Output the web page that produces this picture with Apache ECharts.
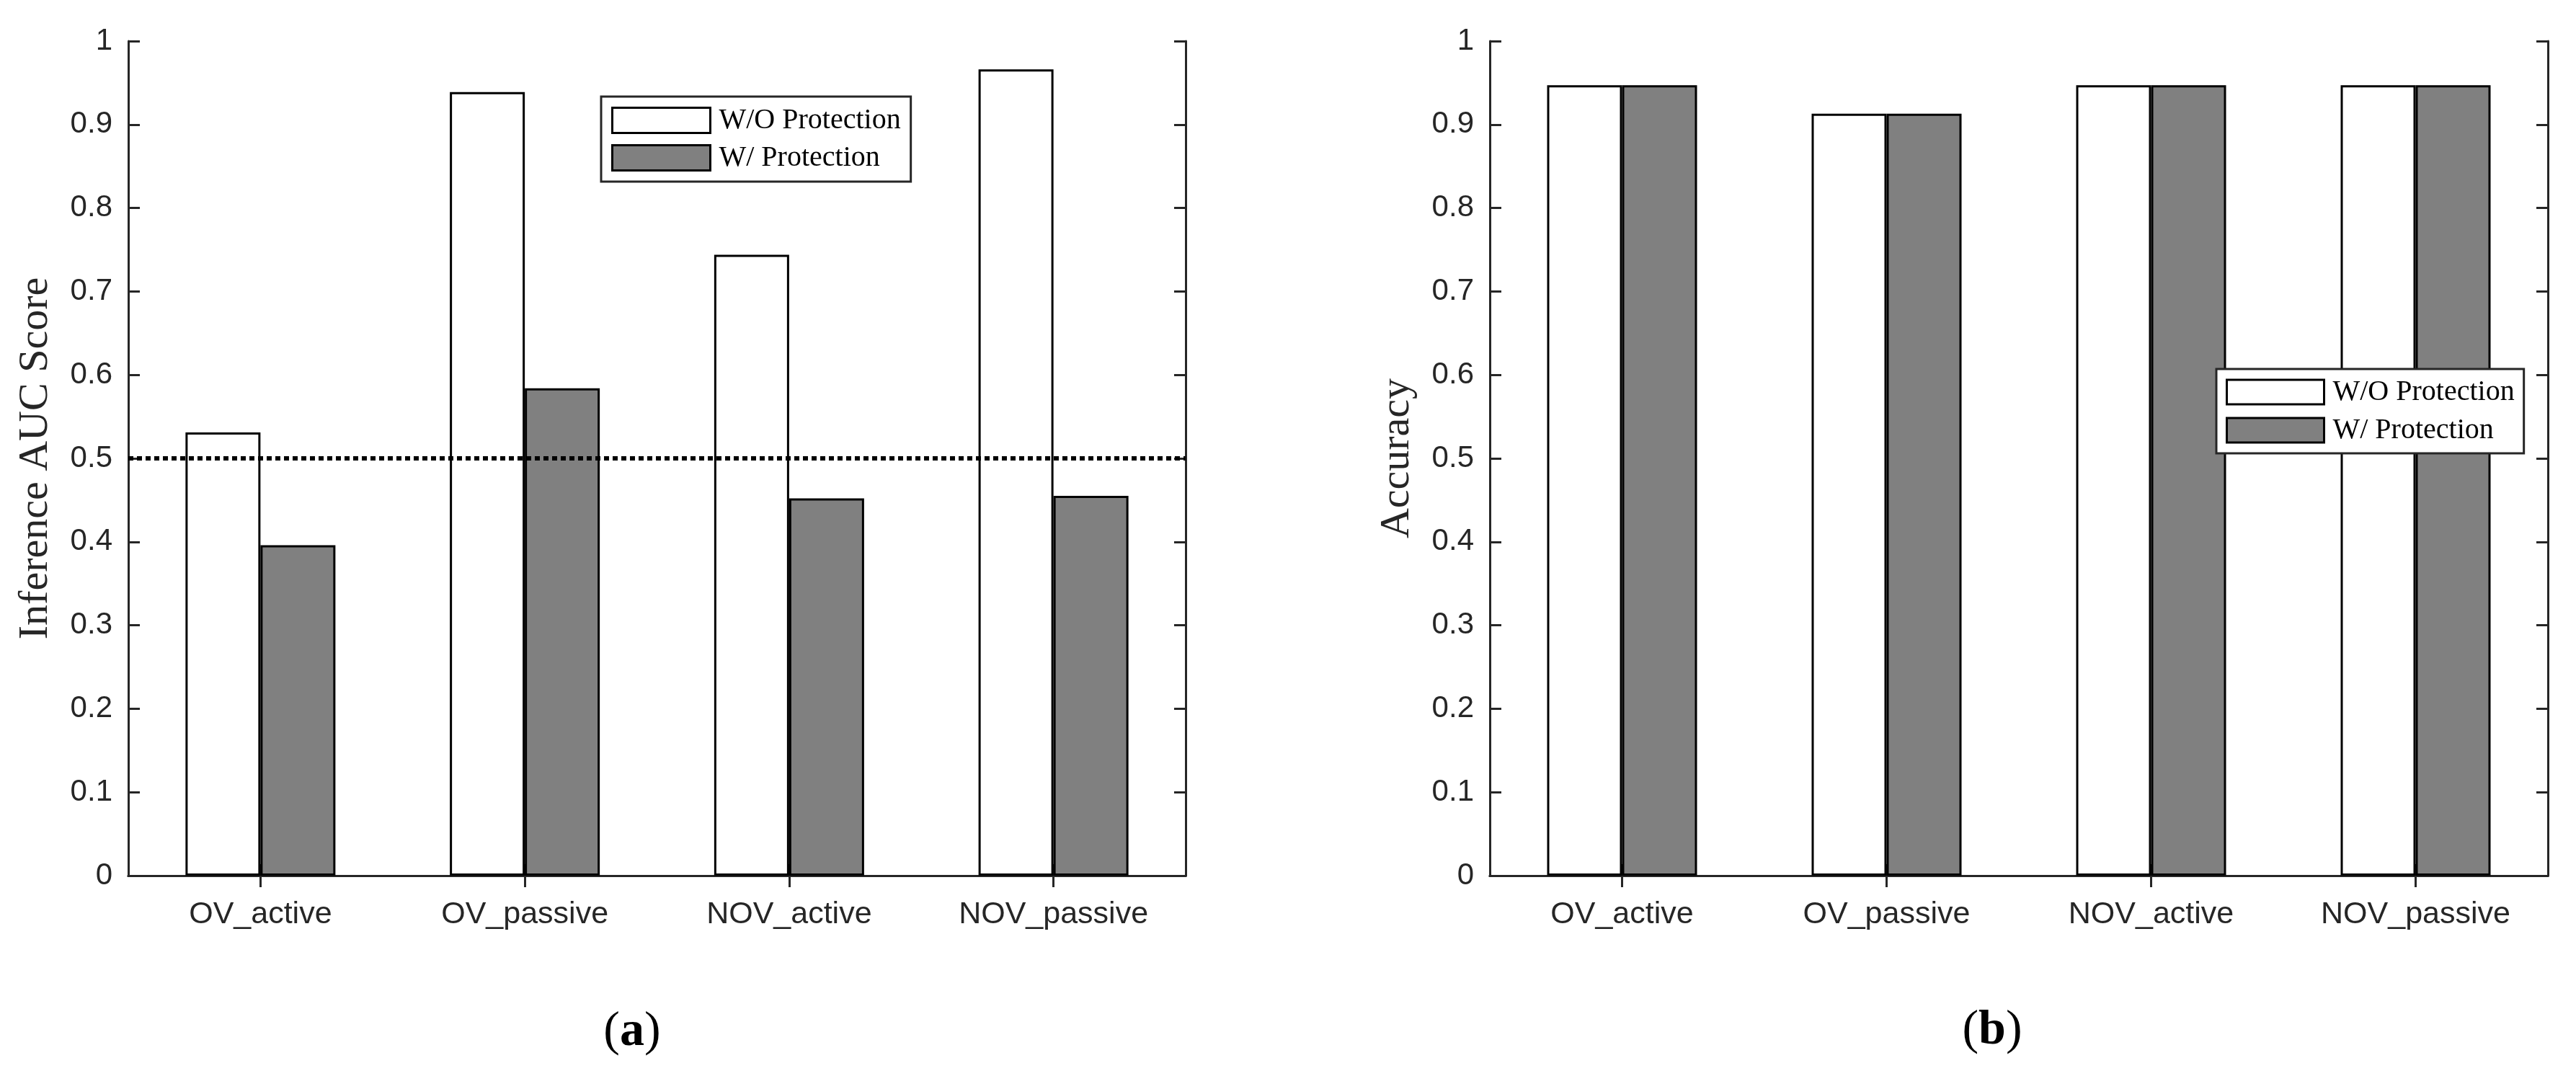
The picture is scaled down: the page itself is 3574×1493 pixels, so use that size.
<!DOCTYPE html>
<html>
<head>
<meta charset="utf-8">
<script src="https://cdn.jsdelivr.net/npm/echarts@6/dist/echarts.min.js"></script>
<style>
html,body{margin:0;padding:0;background:#fff;}
#chart{width:3574px;height:1493px;}
</style>
</head>
<body>
<div id="chart"></div>
<script>
// ---- data ----
var categories = ['OV_active', 'OV_passive', 'NOV_active', 'NOV_passive'];
var seriesNames = ['W/O Protection', 'W/ Protection'];
var aucWithout = [0.531, 0.939, 0.744, 0.966];
var aucWith = [0.396, 0.584, 0.452, 0.455];
var accWithout = [0.947, 0.913, 0.947, 0.947];
var accWith = [0.947, 0.913, 0.947, 0.947];
var yMin = 0, yMax = 1, yInterval = 0.1;
var chanceLevel = 0.5;
var yTitles = ['Inference AUC Score', 'Accuracy'];
var captions = ['a', 'b'];

// ---- styles ----
var AX = '#262626';
var SANS = 'Liberation Sans, Arial, sans-serif';
var SERIF = 'Liberation Serif, Times New Roman, serif';
var GRAY = '#808080';

var chart = echarts.init(document.getElementById('chart'), null, {renderer: 'canvas'});

function xAxes(gi) {
  return [
    {
      type: 'category', gridIndex: gi, data: categories, position: 'bottom',
      axisLine: {lineStyle: {color: AX, width: 3}},
      axisTick: {show: true, inside: true, length: 16, alignWithLabel: true, lineStyle: {color: AX, width: 3}},
      axisLabel: {color: AX, fontFamily: SANS, fontSize: 43, margin: 33},
      splitLine: {show: false}
    },
    {
      type: 'category', gridIndex: gi, data: categories, position: 'top',
      axisLine: {lineStyle: {color: AX, width: 3}},
      axisTick: {show: true, inside: true, length: 16, alignWithLabel: true, lineStyle: {color: AX, width: 3}},
      axisLabel: {show: false},
      splitLine: {show: false}
    }
  ];
}
function yAxes(gi, title) {
  return [
    {
      type: 'value', gridIndex: gi, min: yMin, max: yMax, interval: yInterval, position: 'left',
      axisLine: {show: true, lineStyle: {color: AX, width: 3}},
      axisTick: {show: true, inside: true, length: 16, lineStyle: {color: AX, width: 3}},
      axisLabel: {color: AX, fontFamily: SANS, fontSize: 42, margin: 22},
      splitLine: {show: false},
      name: title, nameLocation: 'middle', nameGap: 99, nameRotate: 90,
      nameTextStyle: {color: AX, fontFamily: SERIF, fontSize: 58}
    },
    {
      type: 'value', gridIndex: gi, min: yMin, max: yMax, interval: yInterval, position: 'right',
      axisLine: {show: true, lineStyle: {color: AX, width: 3}},
      axisTick: {show: true, inside: true, length: 16, lineStyle: {color: AX, width: 3}},
      axisLabel: {show: false},
      splitLine: {show: false}
    }
  ];
}

function barSeries(name, data, color, xi, yi, extra) {
  var s = {
    name: name, type: 'bar', xAxisIndex: xi, yAxisIndex: yi, data: data,
    barWidth: 104, barGap: '0%',
    itemStyle: {color: color, borderColor: '#000', borderWidth: 3},
    emphasis: {disabled: true},
    z: 2
  };
  if (extra) { for (var k in extra) s[k] = extra[k]; }
  return s;
}

function legendCfg(left, top, padV, padH, w, h, gap) {
  return {
    orient: 'vertical', left: left, top: top,
    padding: [padV, padH, padV, padH],
    itemWidth: w, itemHeight: h, itemGap: gap,
    icon: 'rect',
    borderColor: AX, borderWidth: 3, backgroundColor: '#fff',
    selectedMode: false,
    itemStyle: {borderColor: '#000', borderWidth: 3},
    textStyle: {fontFamily: SERIF, fontSize: 40, color: '#000', padding: [0, 0, 0, 7]},
    data: seriesNames
  };
}

var option = {
  animation: false,
  backgroundColor: '#fff',
  grid: [
    {left: 178, top: 57, width: 1467, height: 1158},
    {left: 2067, top: 57, width: 1468, height: 1158}
  ],
  xAxis: xAxes(0).concat(xAxes(1)),
  yAxis: yAxes(0, yTitles[0]).concat(yAxes(1, yTitles[1])),
  legend: [
    legendCfg(834, 134, 13, 14, 136, 35, 12),
    legendCfg(3075, 512, 12, 13, 135, 34, 13)
  ],
  series: [
    barSeries(seriesNames[0], aucWithout, '#fff', 0, 0, {
      markLine: {
        silent: true, symbol: ['none', 'none'], label: {show: false},
        lineStyle: {color: '#000', width: 6, type: [7, 5]},
        emphasis: {disabled: true},
        data: [{yAxis: chanceLevel}]
      }
    }),
    barSeries(seriesNames[1], aucWith, GRAY, 0, 0),
    barSeries(seriesNames[0], accWithout, '#fff', 2, 2),
    barSeries(seriesNames[1], accWith, GRAY, 2, 2)
  ],
  graphic: [
    {
      type: 'text', x: 877, y: 1432,
      style: {
        text: '{p|(}{b|' + captions[0] + '}{p|)}',
        align: 'center', verticalAlign: 'middle',
        rich: {
          p: {fontFamily: SERIF, fontSize: 68, fill: '#000'},
          b: {fontFamily: SERIF, fontSize: 68, fontWeight: 'bold', fill: '#000'}
        }
      }
    },
    {
      type: 'text', x: 2764, y: 1430,
      style: {
        text: '{p|(}{b|' + captions[1] + '}{p|)}',
        align: 'center', verticalAlign: 'middle',
        rich: {
          p: {fontFamily: SERIF, fontSize: 68, fill: '#000'},
          b: {fontFamily: SERIF, fontSize: 68, fontWeight: 'bold', fill: '#000'}
        }
      }
    }
  ]
};
chart.setOption(option);
</script>
</body>
</html>
